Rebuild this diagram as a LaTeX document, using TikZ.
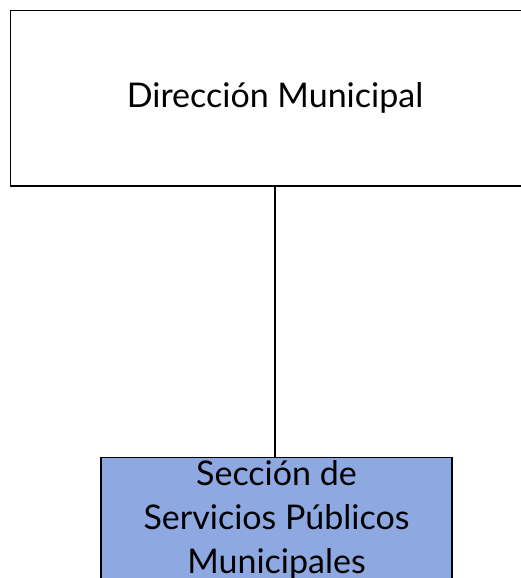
\documentclass[tikz,border=0pt]{standalone}
\usepackage{fontspec}
\setmainfont{Lato}
\definecolor{secblue}{RGB}{142,169,226}

\begin{document}
\begin{tikzpicture}[x=1pt,y=-1pt]
    \useasboundingbox (0,0) rectangle (521,578);
    \clip (0,0) rectangle (521,578);

    \node[shape=rectangle,draw=black,line width=1.2pt,minimum width=529pt,minimum height=175.5pt,font=\fontsize{34}{40}\selectfont] (dir) at (275,98.25) {Dirección Municipal};
    \node[shape=rectangle,draw=black,fill=secblue,line width=1.2pt,minimum width=351pt,minimum height=124pt,align=center,font=\fontsize{34}{44}\selectfont] (sec) at (276.5,520) {Sección de\\Servicios Públicos\\Municipales};

    \draw [line width=1.8pt] (dir.south) -- (dir.south |- sec.north);

\end{tikzpicture}
\end{document}
